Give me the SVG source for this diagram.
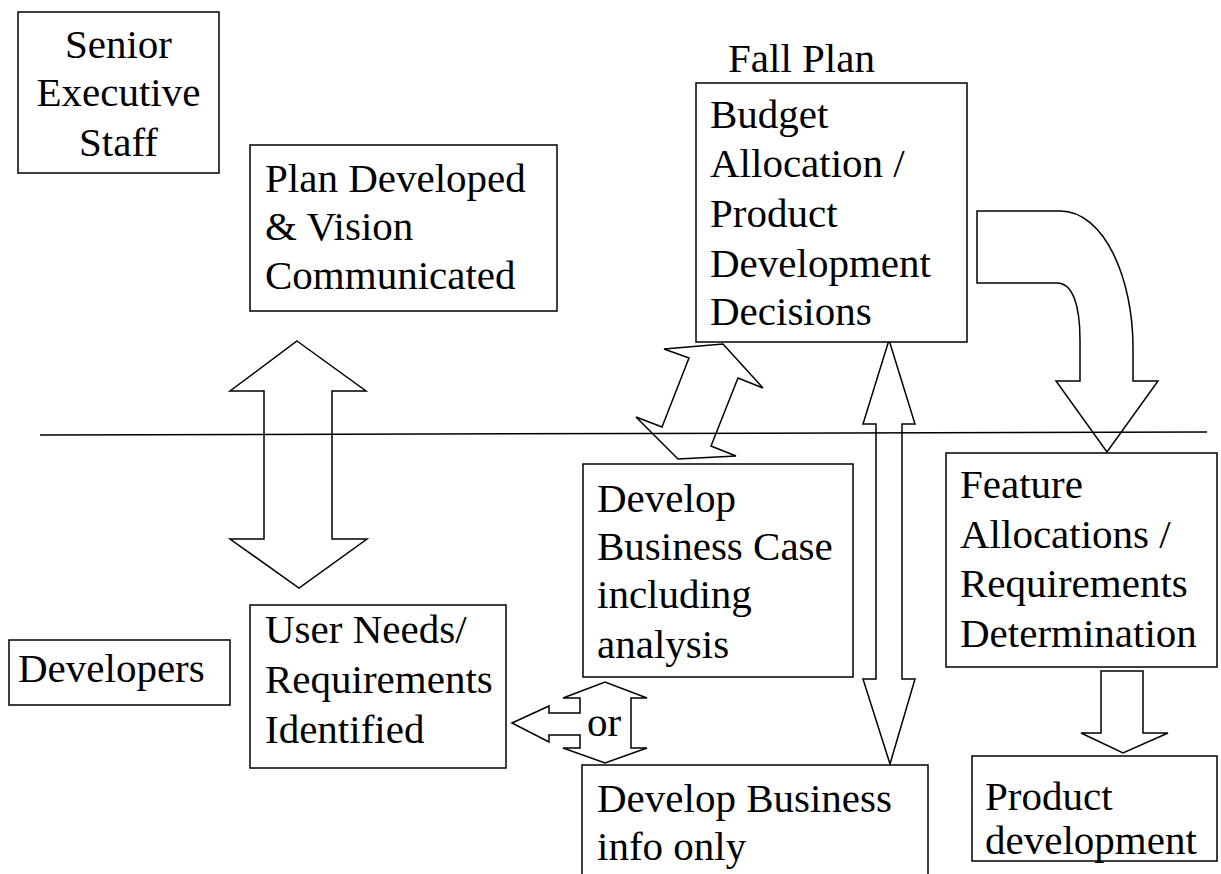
<svg xmlns="http://www.w3.org/2000/svg" width="1221" height="874" viewBox="0 0 1221 874">
<style>
.box{fill:#fff;stroke:#000;stroke-width:1.5}
.arr{fill:#fff;stroke:#000;stroke-width:1.5;stroke-linejoin:miter}
.t{font-family:"Liberation Serif","Times New Roman",serif;font-size:41px;fill:#000}
.c{text-anchor:middle}
</style>
<rect width="1221" height="874" fill="#fff"/>
<g id="connectors">
<path class="arr" d="M297,341 L366,391 L332,391 L332,539 L367,539 L299,588 L230,539 L264,539 L264,391 L230,391 Z"/>
<path class="arr" d="M664,349 L723,344 L763,388 L738,378 L711,446 L736,456 L678,459 L636,417 L662,427 L689,358 Z"/>
<path class="arr" d="M889,340 L915,424 L902,424 L902,679 L915,679 L890,764 L863,679 L876,679 L876,424 L863,424 Z"/>
<path class="arr" d="M977,211 L1060,211 C1105,211 1133,280 1133,347 L1133,381 L1158,381 L1107,452 L1056,381 L1080,381 L1080,340 C1080,306 1073,283 1057,283 L977,283 Z"/>
<path class="arr" d="M1101,671 L1143,671 L1143,733 L1168,733 L1123,753 L1081,733 L1101,733 Z"/>
<path class="arr" d="M512,723 L549,706 L549,713 L580,713 L580,698 L563,698 L605,682 L647,698 L631,698 L631,748 L647,748 L605,763 L563,748 L580,748 L580,735 L549,735 L549,742 Z"/>
<text class="t" x="587" y="736">or</text>
</g>
<g id="divider">
<line x1="40" y1="435" x2="1207" y2="432" stroke="#000" stroke-width="1.5"/>
</g>
<g id="senior-executive-staff">
<rect class="box" x="18" y="12" width="201" height="161"/>
<text class="t c" x="118.5" y="58">Senior</text>
<text class="t c" x="118.5" y="106">Executive</text>
<text class="t c" x="118.5" y="156">Staff</text>
</g>
<g id="plan-developed">
<rect class="box" x="250" y="145" width="307" height="166"/>
<text class="t" x="265" y="192">Plan Developed</text>
<text class="t" x="265" y="240">&amp; Vision</text>
<text class="t" x="265" y="289">Communicated</text>
</g>
<g id="fall-plan">
<text class="t" x="728" y="72">Fall Plan</text>
<rect class="box" x="696" y="83" width="271" height="259"/>
<text class="t" x="710" y="128">Budget</text>
<text class="t" x="710" y="177">Allocation /</text>
<text class="t" x="710" y="227">Product</text>
<text class="t" x="710" y="277">Development</text>
<text class="t" x="710" y="325">Decisions</text>
</g>
<g id="develop-business-case">
<rect class="box" x="583" y="464" width="270" height="213"/>
<text class="t" x="597" y="512">Develop</text>
<text class="t" x="597" y="560">Business Case</text>
<text class="t" x="597" y="608">including</text>
<text class="t" x="597" y="658">analysis</text>
</g>
<g id="feature-allocations">
<rect class="box" x="946" y="453" width="271" height="214"/>
<text class="t" x="960" y="498">Feature</text>
<text class="t" x="960" y="548">Allocations /</text>
<text class="t" x="960" y="597">Requirements</text>
<text class="t" x="960" y="647">Determination</text>
</g>
<g id="developers">
<rect class="box" x="9" y="640" width="221" height="65"/>
<text class="t" x="18" y="682">Developers</text>
</g>
<g id="user-needs">
<rect class="box" x="250" y="605" width="256" height="163"/>
<text class="t" x="265" y="643">User Needs/</text>
<text class="t" x="265" y="693">Requirements</text>
<text class="t" x="265" y="743">Identified</text>
</g>
<g id="develop-business-info">
<path class="box" d="M582,880 L582,765 L928,765 L928,880"/>
<text class="t" x="597" y="812">Develop Business</text>
<text class="t" x="597" y="860">info only</text>
</g>
<g id="product-development">
<rect class="box" x="972" y="756" width="245" height="105"/>
<text class="t" x="985" y="810">Product</text>
<text class="t" x="985" y="854">development</text>
</g>
</svg>
